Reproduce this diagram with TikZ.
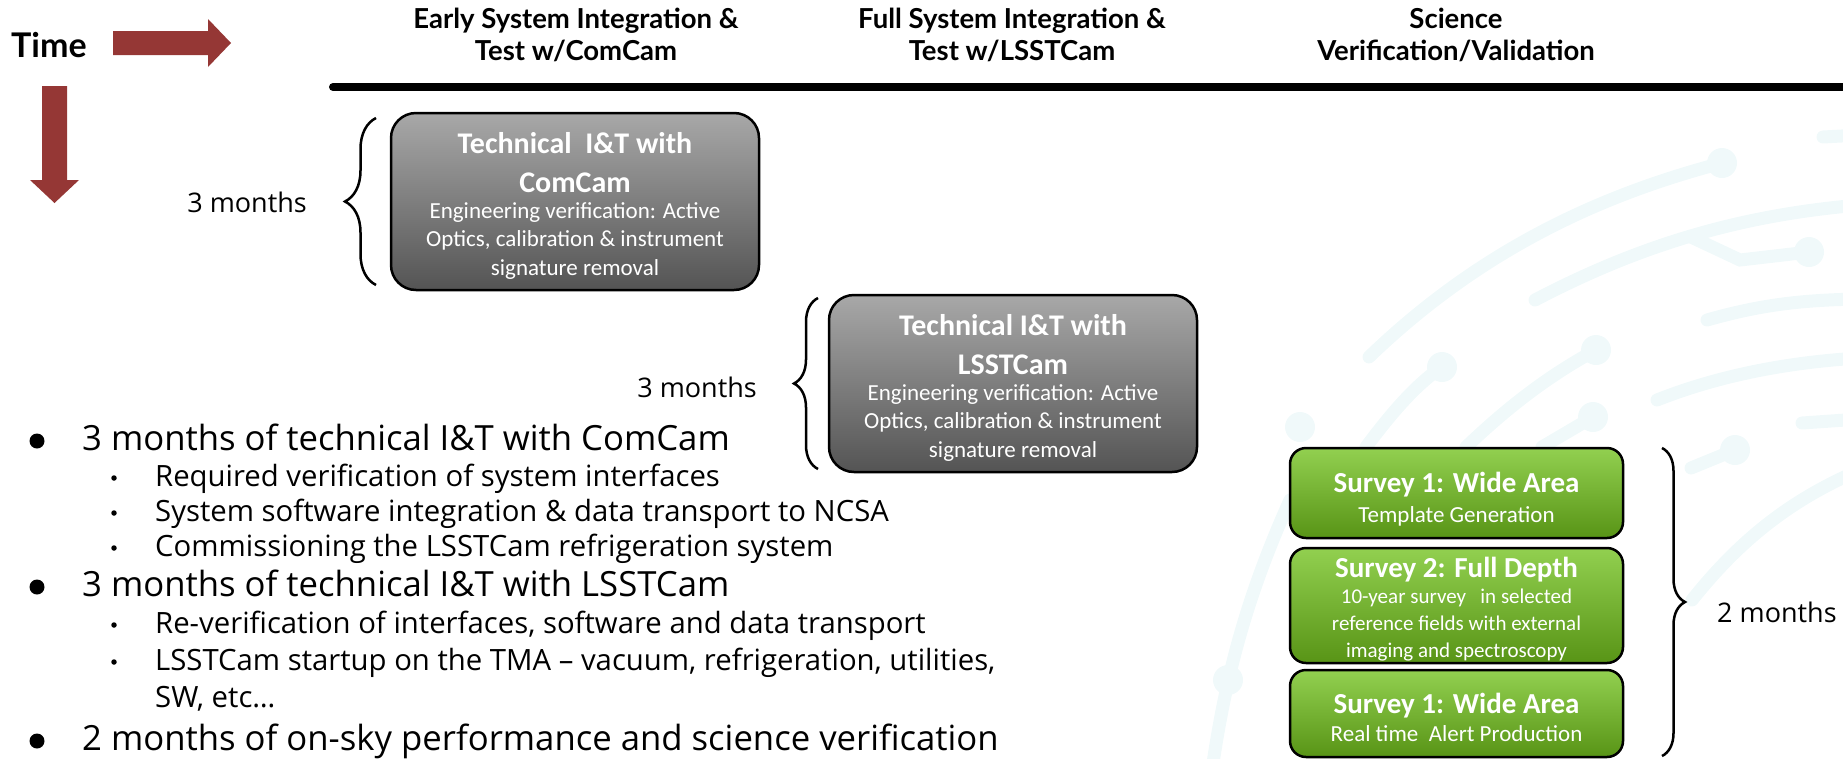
\documentclass[tikz,border=0pt]{standalone}
\usepackage{fontspec}
\setmainfont{Open Sans}
\newfontfamily\calfont{Carlito}
\newfontfamily\headfont{Lato}
\usetikzlibrary{decorations.pathreplacing}

\definecolor{arrowred}{RGB}{149,55,53}
\definecolor{boxtop}{RGB}{168,168,168}
\definecolor{boxbot}{RGB}{84,84,84}
\definecolor{greentop}{RGB}{146,208,80}
\definecolor{greenbot}{RGB}{88,148,22}
\definecolor{wmark}{RGB}{240,249,250}

\begin{document}
\begin{tikzpicture}[x=1pt,y=-1pt,
    timearrow/.style={fill=arrowred},
    phase/.style={font=\headfont\bfseries\fontsize{27.5}{32}\selectfont,align=center,anchor=base,inner sep=0pt},
    techbox/.style={draw=black,line width=2.5pt,rounded corners=25pt,top color=boxtop,bottom color=boxbot,
      minimum width=368pt,minimum height=177pt,inner sep=0pt},
    techtitle/.style={font=\calfont\bfseries\fontsize{30}{39}\selectfont,text=white,align=center,anchor=base,inner sep=0pt},
    techtext/.style={font=\calfont\fontsize{23}{28.5}\selectfont,text=white,align=center,anchor=base,inner sep=0pt},
    surveybox/.style={draw=black,line width=2.5pt,rounded corners=16pt,top color=greentop,bottom color=greenbot,
      minimum width=333pt,inner sep=0pt},
    surveytitle/.style={font=\calfont\bfseries\fontsize{29}{35}\selectfont,text=white,anchor=base,inner sep=0pt},
    surveytext/.style={font=\calfont\fontsize{23}{27}\selectfont,text=white,align=center,anchor=base,inner sep=0pt},
    spanbrace/.style={decorate,decoration={brace,amplitude=#1},line width=2.5pt},
    months/.style={font=\fontsize{27}{32}\selectfont,inner sep=0pt},
    mainitem/.style={font=\fontsize{34.7}{40}\selectfont,anchor=base west,inner sep=0pt},
    subitem/.style={font=\fontsize{29.3}{37}\selectfont,anchor=base west,align=left,inner sep=0pt},
    maindot/.style={circle,fill=black,minimum size=15pt,inner sep=0pt},
    subdot/.style={circle,fill=black,minimum size=5.5pt,inner sep=0pt},
    wire/.style={draw=wmark,line width=13pt,line cap=round},
    pad/.style={circle,fill=wmark,minimum size=30pt,inner sep=0pt}
  ]

  \useasboundingbox (0,0) rectangle (1843,758);

  % faint circuit traces in the background
  \draw[wire] (1369,357) .. controls (1480,250) and (1600,195) .. (1722,163);
  \draw[wire] (1535,300) .. controls (1640,245) and (1740,215) .. (1860,205);
  \draw[wire] (1691,237) -- (1740,260) -- (1809,252);
  \draw[wire] (1707,320) .. controls (1760,305) and (1800,300) .. (1860,299);
  \draw[wire] (1657,400) .. controls (1720,375) and (1790,362) .. (1860,358);
  \draw[wire] (1802,423) -- (1860,419);
  \draw[wire] (1823,137) -- (1860,135);
  \draw[wire] (1366,447) .. controls (1390,415) and (1415,385) .. (1442,367);
  \draw[wire] (1466,447) .. controls (1510,405) and (1550,375) .. (1596,350);
  \draw[wire] (1542,447) -- (1593,417);
  \draw[wire] (1735,450) -- (1691,468);
  \draw[wire] (1212,770) .. controls (1225,680) and (1245,600) .. (1290,500);
  \draw[wire] (1692,600) .. controls (1740,540) and (1790,500) .. (1860,470);
  \node[pad] (p1) at (1722,163) {};
  \node[pad] (p2) at (1809,252) {};
  \node[pad] (p3) at (1442,367) {};
  \node[pad] (p4) at (1596,350) {};
  \node[pad] (p5) at (1593,417) {};
  \node[pad] (p6) at (1735,450) {};
  \node[pad] (p7) at (1300,427) {};
  \node[pad] (p8) at (1228,680) {};

  % time axes
  \node[font=\headfont\bfseries\fontsize{34}{40}\selectfont,anchor=base west,inner sep=0pt] (time) at (11,57) {Time};
  \fill[timearrow] (113,31) -- (208,31) -- (208,19) -- (231,43) -- (208,67) -- (208,55) -- (113,55) -- cycle;
  \fill[timearrow] (42,86) -- (67,86) -- (67,180) -- (79,180) -- (54.5,203) -- (30,180) -- (42,180) -- cycle;

  % phase headings (base = last line)
  \node[phase] (early) at (576,60) {Early System Integration \&\\Test w/ComCam};
  \node[phase] (full) at (1012,60) {Full System Integration \&\\Test w/LSSTCam};
  \node[phase] (sv) at (1456,60) {Science\\Verification/Validation};
  \draw[line width=8pt,line cap=round] (333,87) -- (1870,87);

  % technical I&T blocks
  \node[techbox] (comcam) at (575,201.5) {};
  \node[techtitle] (comcamt) at (575,192) {Technical\ \ I\&T with\\ComCam};
  \node[techtext] (comcamd) at (575,275) {Engineering verification: Active\\Optics, calibration \& instrument\\signature removal};

  \node[techbox] (lsstcam) at (1013,383.5) {};
  \node[techtitle] (lsstcamt) at (1013,374) {Technical I\&T with\\LSSTCam};
  \node[techtext] (lsstcamd) at (1013,457) {Engineering verification: Active\\Optics, calibration \& instrument\\signature removal};

  \draw[spanbrace=31pt] (376,285) -- (376,118);
  \node[months,anchor=base east] (m3a) at (307,212) {3 months};
  \draw[spanbrace=24pt] (818,469) -- (818,298);
  \node[months,anchor=base east] (m3b) at (757,397) {3 months};

  % science verification surveys
  \node[surveybox,minimum height=90pt] (wide1) at (1456.5,493) {};
  \node[surveytitle] (wide1t) at (1456.5,492) {Survey 1: Wide Area};
  \node[surveytext] (wide1d) at (1456.5,522) {Template Generation};

  \node[surveybox,minimum height=115pt] (deep) at (1456.5,605.5) {};
  \node[surveytitle] (deept) at (1456.5,577) {Survey 2: Full Depth};
  \node[surveytext,font=\calfont\fontsize{21}{27}\selectfont] (deepd) at (1456.5,657)
    {10-year survey\ \ \ in selected\\reference fields with external\\imaging and spectroscopy};

  \node[surveybox,minimum height=87pt] (wide2) at (1456.5,713.5) {};
  \node[surveytitle] (wide2t) at (1456.5,713) {Survey 1: Wide Area};
  \node[surveytext] (wide2d) at (1456.5,741) {Real time\ \ Alert Production};

  \draw[spanbrace=23pt] (1662,448) -- (1662,756);
  \node[months,anchor=base west] (m2) at (1717,622) {2 months};

  % bullet list
  \node[maindot] (d1) at (37,441) {};
  \node[mainitem] (b1) at (82,450) {3 months of technical I\&T with ComCam};
  \node[subdot] (d11) at (114,478) {};
  \node[subitem] (b11) at (155,486) {Required verification of system interfaces};
  \node[subdot] (d12) at (114,513) {};
  \node[subitem] (b12) at (155,521) {System software integration \& data transport to NCSA};
  \node[subdot] (d13) at (114,548) {};
  \node[subitem] (b13) at (155,556) {Commissioning the LSSTCam refrigeration system};

  \node[maindot] (d2) at (37,587) {};
  \node[mainitem] (b2) at (82,596) {3 months of technical I\&T with LSSTCam};
  \node[subdot] (d21) at (114,625) {};
  \node[subitem] (b21) at (155,633) {Re-verification of interfaces, software and data transport};
  \node[subdot] (d22) at (114,662) {};
  \node[subitem] (b22) at (155,707) {LSSTCam startup on the TMA – vacuum, refrigeration, utilities,\\SW, etc…};

  \node[maindot] (d3) at (37,741) {};
  \node[mainitem] (b3) at (82,750) {2 months of on-sky performance and science verification};

\end{tikzpicture}
\end{document}
